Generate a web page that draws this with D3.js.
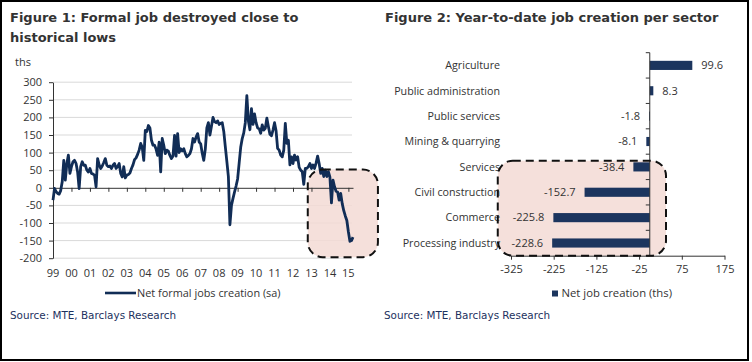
<!DOCTYPE html>
<html>
<head>
<meta charset="utf-8">
<script src="https://cdn.jsdelivr.net/npm/d3@7"></script>
<style>
  body { margin: 0; background: #fff; }
  svg { display: block; }
</style>
</head>
<body>
<svg id="chart" width="752" height="362"></svg>
<script>
// Figure 1: net formal jobs creation (sa, ths), monthly from Jan 1999
const firstYear = 1999
const netFormalJobs = [
  -35, -2, -11, -16, -18, -8, 17, 78, 22, 69, 93, 41,        // 1999
  60, 74, 78, 69, 45, -2, 60, 74, 64, 64, 50, 45,            // 2000
  55, 41, 39, 36, 3, 83, 65, 55, 62, 72, 83, 64,             // 2001
  60, 62, 55, 64, 69, 55, 60, 69, 41, 31, 60, 28,            // 2002
  36, 38, 42, 55, 65, 80, 85, 95, 107, 126, 115, 78,         // 2003
  163, 160, 177, 170, 135, 121, 121, 110, 92, 130, 45, 140,  // 2004
  121, 97, 107, 104, 92, 83, 90, 149, 90, 154, 100, 111,     // 2005
  105, 111, 97, 88, 92, 97, 111, 140, 130, 144, 154, 130,    // 2006
  125, 98, 78, 110, 170, 185, 150, 175, 200, 188, 185, 190,  // 2007
  180, 183, 185, 160, 117, 75, 32, -105, -50, -30, -12, 5,   // 2008
  25, 70, 115, 140, 156, 185, 262, 190, 165, 225, 180, 210,  // 2009
  185, 170, 168, 155, 179, 164, 169, 198, 174, 152, 148, 164,// 2010
  185, 162, 112, 107, 93, 88, 107, 183, 126, 135, 65, 88,    // 2011
  69, 93, 79, 88, 58, 50, 46, 10, 55, 55, 60, 69,            // 2012
  55, 65, 55, 70, 90, 69, 41, 55, 32, 50, 32, 46,            // 2013
  30, -43, 22, 3, -10, -12, -35, -16, -45, -65, -80, -93,    // 2014
  -125, -152, -150, -140                                     // 2015
]
const yearTicks = d3.range(1999, 2016)
const jobTicks = d3.range(-200, 301, 50)

// Figure 2: year-to-date job creation per sector (ths)
const sectors = ['Agriculture', 'Public administration', 'Public services', 'Mining & quarrying',
  'Services', 'Civil construction', 'Commerce', 'Processing industry']
const sectorJobs = [99.6, 8.3, -1.8, -8.1, -38.4, -152.7, -225.8, -228.6]
const sectorTicks = [-325, -225, -125, -25, 75, 175]

const navy = '#112d56'
const barColor = '#1c355e'
const ink = '#333333'
const pink = '#f3dbd5'
const grid = '#d9d9d9'
const sans = '"Open Sans", sans-serif'

const svg = d3.select('#chart')

svg.append('rect')
  .attr('x', 1).attr('y', 1)
  .attr('width', 747).attr('height', 359)
  .attr('fill', '#fff')
  .attr('stroke', '#000')
  .attr('stroke-width', 2)

const title = (x, y, t) => svg.append('text')
  .attr('x', x).attr('y', y)
  .attr('font-family', '"DejaVu Sans", Verdana, sans-serif')
  .attr('font-weight', 'bold')
  .attr('font-size', 13)
  .attr('fill', ink)
  .text(t)

title(10, 22, 'Figure 1: Formal job destroyed close to')
title(10, 42, 'historical lows')
title(385, 22, 'Figure 2: Year-to-date job creation per sector')

const source = x => svg.append('text')
  .attr('x', x).attr('y', 319)
  .attr('font-family', '"DejaVu Sans", Verdana, sans-serif')
  .attr('font-size', 10.4)
  .attr('fill', '#1d3260')
  .text('Source: MTE, Barclays Research')

source(10)
source(384)

// ---------- Figure 1 ----------
const lineData = netFormalJobs.map((v, i) => ({ t: firstYear + i / 12, v }))

const x1 = d3.scaleLinear()
  .domain([1999, 2015.25])
  .range([53, 353])

const y1 = d3.scaleLinear()
  .domain([-200, 300])
  .range([258.2, 82.2])

const left = svg.append('g')

left.append('text')
  .attr('x', 15).attr('y', 66)
  .attr('font-family', sans).attr('font-size', 11)
  .attr('fill', ink)
  .text('ths')

left.append('g')
  .selectAll('line')
  .data(jobTicks.filter(d => d !== 0))
  .enter().append('line')
  .attr('x1', x1(1999)).attr('x2', x1.range()[1] - 1)
  .attr('y1', d => y1(d)).attr('y2', d => y1(d))
  .attr('stroke', grid)
  .attr('stroke-width', 1)

// highlighted recent months
const leftBox = { t0: 2012.8, t1: 2016.6, v0: 52, v1: -197 }
const leftBoxAttrs = sel => sel
  .attr('x', x1(leftBox.t0)).attr('y', y1(leftBox.v0))
  .attr('width', x1(leftBox.t1) - x1(leftBox.t0))
  .attr('height', y1(leftBox.v1) - y1(leftBox.v0))
  .attr('rx', 15).attr('ry', 15)

left.append('rect')
  .call(leftBoxAttrs)
  .attr('fill', pink)
  .attr('opacity', 0.85)

const yAxis1 = g => g
  .attr('transform', `translate(${x1(1999)},0)`)
  .call(d3.axisLeft(y1).tickValues(jobTicks).tickSize(4).tickSizeOuter(0).tickPadding(7).tickFormat(d => String(d)))

const xAxis1 = g => g
  .attr('transform', `translate(0,${y1(0)})`)
  .call(d3.axisBottom(x1).tickValues(yearTicks).tickSize(4).tickSizeOuter(0).tickFormat(''))

left.append('g').attr('class', 'axis').call(yAxis1)
left.append('g').attr('class', 'axis').call(xAxis1)

left.append('g')
  .selectAll('text')
  .data(yearTicks)
  .enter().append('text')
  .attr('x', d => x1(d))
  .attr('y', 277)
  .attr('text-anchor', 'middle')
  .attr('font-family', sans).attr('font-size', 11)
  .attr('fill', ink)
  .text(d => String(d).slice(2))

const jobsLine = d3.line()
  .x(d => x1(d.t))
  .y(d => y1(d.v))

left.append('path')
  .datum(lineData)
  .attr('d', jobsLine)
  .attr('fill', 'none')
  .attr('stroke', navy)
  .attr('stroke-width', 2.8)
  .attr('stroke-linejoin', 'round')

left.append('rect')
  .call(leftBoxAttrs)
  .attr('fill', 'none')
  .attr('stroke', '#111')
  .attr('stroke-width', 2)
  .attr('stroke-dasharray', '8,5')

left.append('line')
  .attr('x1', 105).attr('x2', 136)
  .attr('y1', 293).attr('y2', 293)
  .attr('stroke', navy).attr('stroke-width', 2.6)

left.append('text')
  .attr('x', 137).attr('y', 297)
  .attr('font-family', sans).attr('font-size', 10.9)
  .attr('fill', ink)
  .text('Net formal jobs creation (sa)')

// ---------- Figure 2 ----------
const barData = sectors.map((s, i) => ({ sector: s, value: sectorJobs[i] }))

const x2 = d3.scaleLinear()
  .domain([-325, 175])
  .range([511, 724.5])

const y2 = d3.scaleBand()
  .domain(sectors)
  .range([52.7, 255.7])
  .paddingInner(0.64)
  .paddingOuter(0.32)

const right = svg.append('g')

const rightBox = { v0: -356, v1: 38 }
const rightBoxAttrs = sel => sel
  .attr('x', x2(rightBox.v0)).attr('y', y2('Services') - 1.6)
  .attr('width', x2(rightBox.v1) - x2(rightBox.v0))
  .attr('height', y2.range()[1] - y2('Services') + 1.6)
  .attr('rx', 15).attr('ry', 15)

right.append('rect')
  .call(rightBoxAttrs)
  .attr('fill', pink)
  .attr('opacity', 0.85)

right.append('g')
  .selectAll('rect')
  .data(barData)
  .enter().append('rect')
  .attr('x', d => x2(Math.min(0, d.value)))
  .attr('y', d => y2(d.sector))
  .attr('width', d => Math.abs(x2(d.value) - x2(0)))
  .attr('height', y2.bandwidth())
  .attr('fill', barColor)

right.append('g')
  .selectAll('text')
  .data(barData)
  .enter().append('text')
  .attr('x', d => d.value >= 0 ? x2(d.value) + 9 : x2(d.value) - 9)
  .attr('y', d => y2(d.sector) + y2.bandwidth() / 2)
  .attr('dy', '0.35em')
  .attr('text-anchor', d => d.value >= 0 ? 'start' : 'end')
  .attr('font-family', sans).attr('font-size', 11)
  .attr('fill', ink)
  .text(d => d.value)

right.append('g')
  .selectAll('text')
  .data(sectors)
  .enter().append('text')
  .attr('x', 500)
  .attr('y', d => y2(d) + y2.bandwidth() / 2)
  .attr('dy', '0.35em')
  .attr('text-anchor', 'end')
  .attr('font-family', sans).attr('font-size', 10.7)
  .attr('fill', ink)
  .text(d => d)

// category axis with ticks between sectors
right.append('line')
  .attr('x1', x2(0)).attr('x2', x2(0))
  .attr('y1', y2.range()[0]).attr('y2', y2.range()[1])
  .attr('stroke', ink).attr('stroke-width', 1)

right.append('g')
  .selectAll('line')
  .data(d3.range(sectors.length + 1))
  .enter().append('line')
  .attr('x1', x2(0) - 4).attr('x2', x2(0))
  .attr('y1', i => y2.range()[0] + i * y2.step())
  .attr('y2', i => y2.range()[0] + i * y2.step())
  .attr('stroke', ink)

const xAxis2 = g => g
  .attr('transform', `translate(0,${y2.range()[1]})`)
  .call(d3.axisBottom(x2).tickValues(sectorTicks).tickSize(4).tickSizeOuter(0).tickPadding(6).tickFormat(d => String(d)))

right.append('g').attr('class', 'axis').call(xAxis2)

right.append('rect')
  .call(rightBoxAttrs)
  .attr('fill', 'none')
  .attr('stroke', '#111')
  .attr('stroke-width', 2)
  .attr('stroke-dasharray', '8,5')

right.append('rect')
  .attr('x', 552).attr('y', 290.5)
  .attr('width', 6).attr('height', 6)
  .attr('fill', barColor)

right.append('text')
  .attr('x', 561.5).attr('y', 297)
  .attr('font-family', sans).attr('font-size', 11.3)
  .attr('fill', ink)
  .text('Net job creation (ths)')

svg.selectAll('.axis path, .axis line')
  .attr('stroke', ink)
svg.selectAll('.axis text')
  .attr('font-family', sans)
  .attr('font-size', 11)
  .attr('fill', ink)
</script>
</body>
</html>
